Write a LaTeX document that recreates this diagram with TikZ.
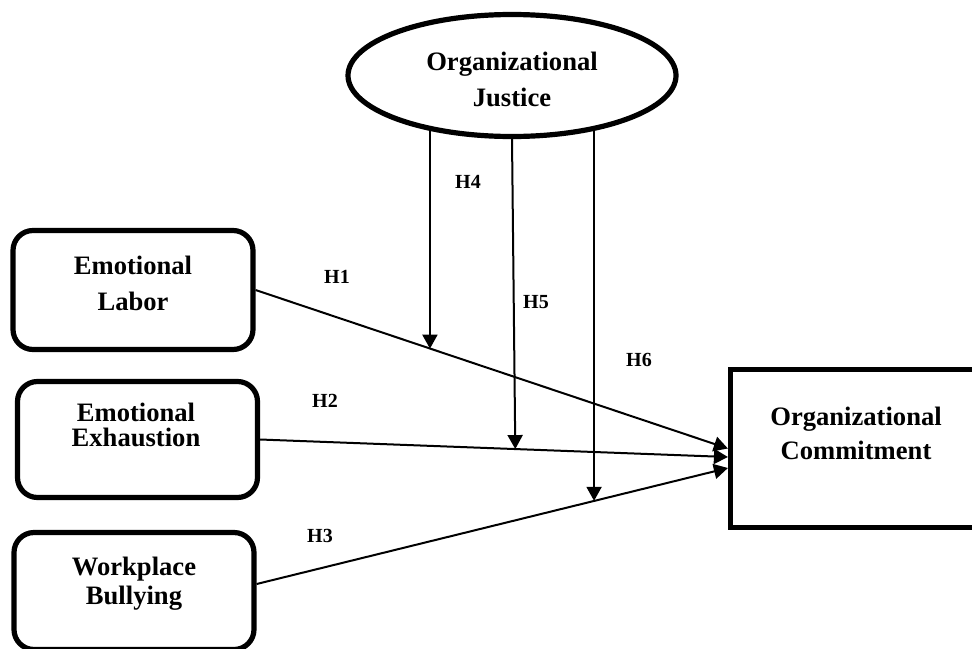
\documentclass[tikz,border=0pt]{standalone}
\usepackage{fontspec}
\setmainfont{Liberation Serif}
\usepackage{tikz}
\usetikzlibrary{positioning,shapes.geometric,arrows.meta}

\begin{document}
\begin{tikzpicture}[
    x=0.5pt, y=-0.5pt,
    construct/.style={rectangle, draw, rounded corners=10pt, line width=2.6pt, minimum width=120pt, minimum height=59.5pt, inner sep=0pt},
    outcome/.style={rectangle, draw, line width=2.6pt, minimum width=125.5pt, minimum height=79pt, inner sep=0pt},
    moderator/.style={ellipse, draw, line width=2.6pt, minimum width=164pt, minimum height=61pt, inner sep=0pt},
    caption/.style={align=center, font=\bfseries\fontsize{13.3}{18}\selectfont},
    hyp/.style={font=\bfseries\fontsize{10}{12}\selectfont},
    arrow/.style={-{Triangle[length=7pt, width=7.5pt]}, line width=1pt}
]

\useasboundingbox (0,0) rectangle (972,648);

% Top - moderator
\node[moderator] (justice) at (512,75.5) {};
\node[caption] (justicetxt) at ([yshift=-1.75pt]justice.center) {Organizational\\Justice};

% Left column - independent constructs
\node[construct] (labor) at (133,290) {};
\node[caption] (labortxt) at ([yshift=3.5pt]labor.center) {Emotional\\Labor};

\node[construct, below=13.4pt of labor, xshift=2.25pt, minimum height=58pt] (exhaust) {};
\node[caption, font=\bfseries\fontsize{13.3}{12.6}\selectfont] (exhausttxt) at ([yshift=7.1pt, xshift=-0.75pt]exhaust.center) {Emotional\\Exhaustion};

\node[construct, below=14.9pt of exhaust, xshift=-1.75pt, minimum height=58.5pt] (bullying) {};
\node[caption, font=\bfseries\fontsize{13.3}{14.5}\selectfont] (bullyingtxt) at ([yshift=3.8pt]bullying.center) {Workplace\\Bullying};

% Right - dependent construct
\node[outcome] (commit) at (856,448.5) {};
\node[caption, font=\bfseries\fontsize{13.3}{17}\selectfont] (committxt) at ([yshift=7.75pt]commit.center) {Organizational\\Commitment};

% Direct paths
\draw[arrow] (labor.east) -- coordinate[pos=0.37] (m1) (commit.west);
\draw[arrow] (exhaust.east) -- coordinate[pos=0.5455] (m2) ([yshift=-4.25pt]commit.west);
\draw[arrow] ([yshift=3.5pt]bullying.east) -- coordinate[pos=0.717] (m3) ([yshift=-9.75pt]commit.west);

% Moderating paths
\draw[arrow] (justice.214) -- (justice.214 |- m1);
\draw[arrow] (justice.south) -- (m2);
\draw[arrow] (justice.326) -- (justice.326 |- m3);

% Hypothesis labels
\node[hyp] (h1) at (337,277) {H1};
\node[hyp] (h2) at (325,401) {H2};
\node[hyp] (h3) at (320,536) {H3};
\node[hyp] (h4) at (468,182) {H4};
\node[hyp] (h5) at (536,302) {H5};
\node[hyp] (h6) at (639,360) {H6};

\end{tikzpicture}
\end{document}
